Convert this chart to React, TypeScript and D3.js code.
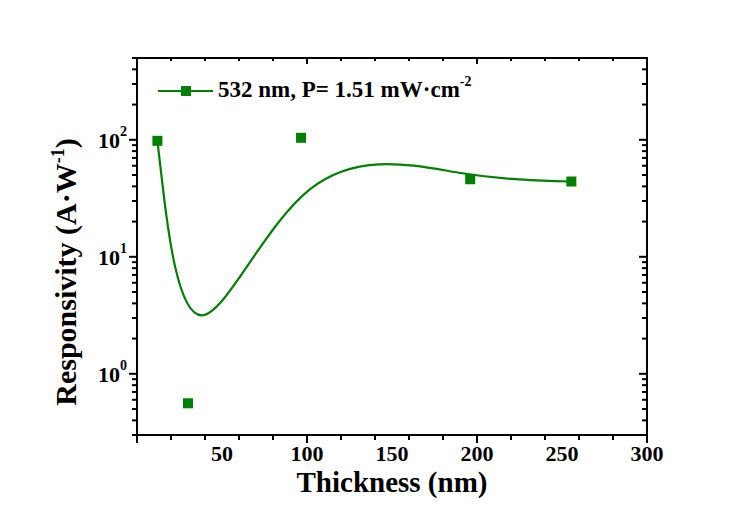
import { useEffect, useRef } from "react";
import * as d3 from "d3";

// values
const thickness = [12, 30, 96.5, 196, 255.5];
const responsivity = [98, 0.56, 104, 46, 44];
const xLabelTicks = [50, 100, 150, 200, 250, 300];
const yExponents = [0, 1, 2];
const seriesName = "532 nm, P= 1.51 mW·cm";
const seriesSup = "-2";
const xTitle = "Thickness (nm)";
const yTitle = "Responsivity (A·W";
const yTitleSup = "-1";

const GREEN = "#008000";
const FONT = "'Liberation Serif', 'Times New Roman', serif";

const App = () => {
  const svgRef = useRef<SVGSVGElement>(null);

  useEffect(() => {
    const width = 737;
    const height = 518;
    const left = 137, right = 647, top = 58, bottom = 435;

    const svg = d3.select(svgRef.current)
      .attr("width", width)
      .attr("height", height);
    svg.selectAll("*").remove();

    const x = d3.scaleLinear().domain([0, 300]).range([left, right]);
    const y = d3.scaleLog().domain([0.3, 500]).range([bottom, top]);

    const g = svg.append("g");

    // ticks (left / bottom outward, top / right inward)
    const xt = x.ticks(12);
    const yt = y.ticks();
    const isDecade = (v: number) => Math.abs(Math.log10(v) - Math.round(Math.log10(v))) < 1e-9;

    const tickG = g.append("g").attr("stroke", "#000").attr("stroke-width", 2);
    xt.forEach(d => {
      const len = d % 50 === 0 ? 8 : 5;
      tickG.append("line").attr("x1", x(d)).attr("x2", x(d))
        .attr("y1", y(0.3)).attr("y2", y(0.3) + len);
      tickG.append("line").attr("x1", x(d)).attr("x2", x(d))
        .attr("y1", y(500)).attr("y2", y(500) + len - 2);
    });
    yt.forEach(d => {
      const len = isDecade(d) ? 8 : 5;
      tickG.append("line").attr("x1", x(0)).attr("x2", x(0) - len)
        .attr("y1", y(d)).attr("y2", y(d));
      tickG.append("line").attr("x1", x(300)).attr("x2", x(300) - len)
        .attr("y1", y(d)).attr("y2", y(d));
    });

    // frame
    g.append("rect")
      .attr("x", x(0)).attr("y", y(500))
      .attr("width", x(300) - x(0)).attr("height", y(0.3) - y(500))
      .attr("fill", "none").attr("stroke", "#000").attr("stroke-width", 2);

    // x tick labels
    g.append("g").selectAll("text").data(xLabelTicks).join("text")
      .attr("x", d => x(d)).attr("y", y(0.3) + 26)
      .attr("text-anchor", "middle")
      .style("font-family", FONT).style("font-weight", "bold").style("font-size", "22px")
      .text(d => d);

    // y tick labels 10^n
    const yl = g.append("g").selectAll("text").data(yExponents).join("text")
      .attr("x", x(0) - 10).attr("y", d => y(Math.pow(10, d)) + 8)
      .attr("text-anchor", "end")
      .style("font-family", FONT).style("font-weight", "bold").style("font-size", "22px");
    yl.append("tspan").text("10");
    yl.append("tspan").attr("dy", -12).style("font-size", "14px").text(d => d);

    // fitted curve (B-spline through the points as control points)
    const pts = thickness.map((t, i) => [t, responsivity[i]] as [number, number]);
    const line = d3.line<[number, number]>()
      .x(d => x(d[0])).y(d => y(d[1]))
      .curve(d3.curveBasis);
    g.append("path").datum(pts)
      .attr("fill", "none").attr("stroke", GREEN).attr("stroke-width", 2.2)
      .attr("d", line);

    // markers
    g.append("g").selectAll("rect").data(pts).join("rect")
      .attr("x", d => x(d[0]) - 5).attr("y", d => y(d[1]) - 5)
      .attr("width", 10).attr("height", 10)
      .attr("fill", GREEN);

    // legend
    const lg = g.append("g");
    lg.append("line").attr("x1", 158).attr("x2", 213).attr("y1", 91).attr("y2", 91)
      .attr("stroke", GREEN).attr("stroke-width", 2.2);
    lg.append("rect").attr("x", 181).attr("y", 86).attr("width", 10).attr("height", 10)
      .attr("fill", GREEN);
    const lt = lg.append("text").attr("x", 218).attr("y", 97)
      .style("font-family", FONT).style("font-weight", "bold").style("font-size", "23px");
    lt.append("tspan").text(seriesName);
    lt.append("tspan").attr("dy", -11).style("font-size", "14px").text(seriesSup);

    // axis titles
    g.append("text")
      .attr("x", (x(0) + x(300)) / 2).attr("y", 492)
      .attr("text-anchor", "middle")
      .style("font-family", FONT).style("font-weight", "bold").style("font-size", "29px")
      .text(xTitle);

    const yt2 = g.append("text")
      .attr("transform", "translate(76,272) rotate(-90)")
      .attr("text-anchor", "middle")
      .style("font-family", FONT).style("font-weight", "bold").style("font-size", "30px");
    yt2.append("tspan").text(yTitle);
    yt2.append("tspan").attr("dy", -12).style("font-size", "18px").text(yTitleSup);
    yt2.append("tspan").attr("dy", 12).text(")");
  }, []);

  return (
    <svg ref={svgRef} width={737} height={518}
      style={{ position: "absolute", left: 0, top: 0, background: "#fff" }} />
  );
};

export default App;
